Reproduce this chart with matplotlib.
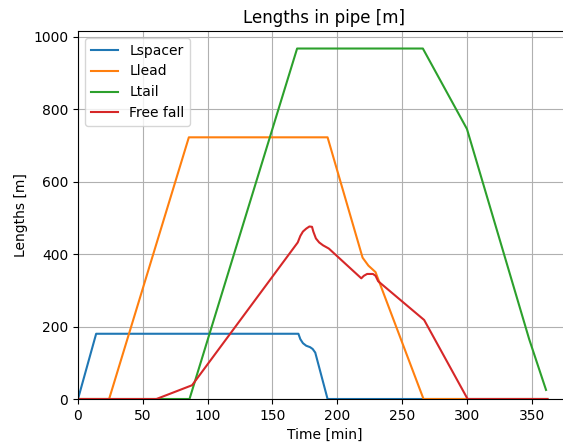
import matplotlib
matplotlib.use("Agg")
import matplotlib.pyplot as plt

# Lspacer
t_spacer = [0, 14, 170, 171.5, 173.5, 176, 179, 181, 183, 192.5, 362]
l_spacer = [0, 180, 180, 165, 154, 147, 143, 138, 128, 0, 0]

# Llead
t_lead = [0, 24, 85.5, 192.5, 219.5, 224, 229.5, 266.5, 362]
l_lead = [0, 0, 722, 722, 390, 368, 350, 0, 0]

# Ltail
t_tail = [0, 86, 169, 266, 300, 348, 361]
l_tail = [0, 0, 967, 967, 745, 165, 25]

# Free fall
t_free = [0, 60.5, 88, 169.5, 171.5, 173.5, 176, 178.5, 180.5, 181.5, 183.5, 186,
          189, 193.5, 218.5, 220.5, 223, 227.5, 229.5, 231.5, 267, 300.5, 362]
l_free = [0, 0, 38, 432, 450, 462, 470, 476, 475, 462, 443, 432,
          424, 415, 333, 340, 345, 345, 340, 325, 218, 0, 0]

x_ticks = [0, 50, 100, 150, 200, 250, 300, 350]

fig = plt.figure(figsize=(5.63, 4.44), dpi=100)
# right edge of the axes falls outside the saved image, as in the original
ax = fig.add_axes([78 / 563, 45 / 444, 518.6 / 563, 368 / 444])

ax.plot(t_spacer, l_spacer, label="Lspacer")
ax.plot(t_lead, l_lead, label="Llead")
ax.plot(t_tail, l_tail, label="Ltail")
ax.plot(t_free, l_free, label="Free fall")

ax.set_xlim(0, 400)
ax.set_xticks(x_ticks)
ax.set_ylim(bottom=0)
ax.grid(True)
ax.legend(loc="upper left")
ax.set_title("Lengths in pipe [m]", x=0.475)
ax.set_xlabel("Time [min]", x=0.475)
ax.set_ylabel("Lengths [m]")

fig.savefig("out.png", dpi=100)
